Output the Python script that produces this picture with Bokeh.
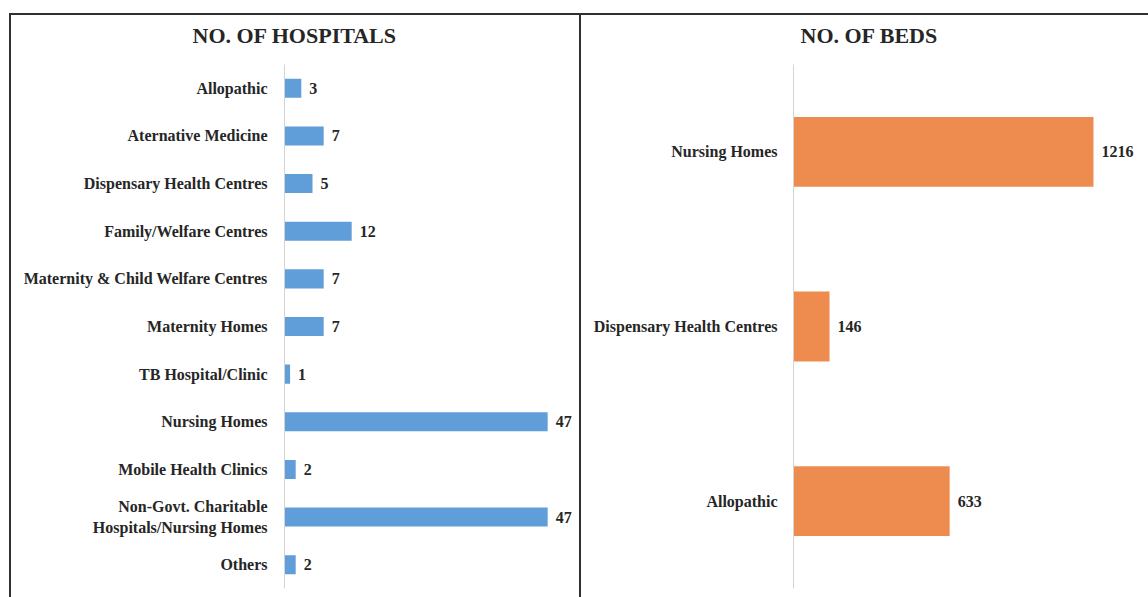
from bokeh.plotting import figure
from bokeh.models import FactorRange, Range1d, ColumnDataSource, Title
from bokeh.layouts import row
from bokeh.core.properties import value
from bokeh.embed import file_html
from bokeh.resources import INLINE

# ---- data ----
hosp_categories = [
    "Allopathic",
    "Aternative Medicine",
    "Dispensary Health Centres",
    "Family/Welfare Centres",
    "Maternity & Child Welfare Centres",
    "Maternity Homes",
    "TB Hospital/Clinic",
    "Nursing Homes",
    "Mobile Health Clinics",
    "Non-Govt. Charitable\nHospitals/Nursing Homes",
    "Others",
]
hosp_counts = [3, 7, 5, 12, 7, 7, 1, 47, 2, 47, 2]

bed_categories = ["Nursing Homes", "Dispensary Health Centres", "Allopathic"]
bed_counts = [1216, 146, 633]

FONT = "'Liberation Serif', 'Times New Roman', serif"
TXT = "#262626"
BLUE = "#5f9ed9"
ORANGE = "#ee8c4f"
AXIS = "#d4d4d4"
BORDER = "2px solid #303030"
LBL = "16px"


def style(p, standoff):
    p.xaxis.visible = False
    p.grid.visible = False
    p.outline_line_color = None
    p.yaxis.axis_line_color = AXIS
    p.yaxis.axis_line_width = 1
    p.yaxis.major_tick_line_color = None
    p.yaxis.minor_tick_line_color = None
    p.yaxis.major_label_standoff = standoff
    p.yaxis.major_label_text_font = FONT
    p.yaxis.major_label_text_font_style = "bold"
    p.yaxis.major_label_text_font_size = LBL
    p.yaxis.major_label_text_color = TXT
    p.title.text_font = FONT
    p.title.text_font_style = "bold"
    p.title.text_font_size = "22px"
    p.title.text_color = TXT
    p.title.align = "left"
    p.title.standoff = 2
    # invisible spacer between the title and the plot area
    p.add_layout(Title(text=" ", text_font_size="12px", standoff=0), "above")
    p.background_fill_color = None
    p.border_fill_color = "white"


# ---- left: number of hospitals ----
src1 = ColumnDataSource(dict(cat=hosp_categories, val=hosp_counts,
                             lab=[str(v) for v in hosp_counts]))
p1 = figure(width=572, height=584,
            y_range=FactorRange(factors=list(reversed(hosp_categories))),
            x_range=Range1d(0, 53.4),
            title="NO. OF HOSPITALS",
            output_backend="svg", toolbar_location=None,
            min_border_left=273, min_border_right=0,
            min_border_top=49, min_border_bottom=11)
p1.hbar(y="cat", left=0, right="val", height=0.4, source=src1,
        fill_color=BLUE, line_color=None)
p1.text(x="val", y="cat", text="lab", source=src1, x_offset=8,
        text_baseline="middle", text_align="left",
        text_font=value(FONT), text_font_style="bold",
        text_font_size=LBL, text_color=TXT)
style(p1, 11)
p1.title.offset = -92
p1.styles = {"border-top": BORDER, "border-left": BORDER, "border-right": BORDER}
p1.margin = (13, 0, 0, 9)

# ---- right: number of beds ----
src2 = ColumnDataSource(dict(cat=bed_categories, val=bed_counts,
                             lab=[str(v) for v in bed_counts]))
p2 = figure(width=567, height=584,
            y_range=FactorRange(factors=list(reversed(bed_categories))),
            x_range=Range1d(0, 1439),
            title="NO. OF BEDS",
            output_backend="svg", toolbar_location=None,
            min_border_left=212, min_border_right=0,
            min_border_top=49, min_border_bottom=11)
p2.hbar(y="cat", left=0, right="val", height=0.4, source=src2,
        fill_color=ORANGE, line_color=None)
p2.text(x="val", y="cat", text="lab", source=src2, x_offset=8,
        text_baseline="middle", text_align="left",
        text_font=value(FONT), text_font_style="bold",
        text_font_size=LBL, text_color=TXT)
style(p2, 10)
p2.title.offset = 7
p2.styles = {"border-top": BORDER}
p2.margin = (13, 0, 0, 0)

layout = row(p1, p2)
open("out.html", "w").write(file_html(layout, INLINE))
